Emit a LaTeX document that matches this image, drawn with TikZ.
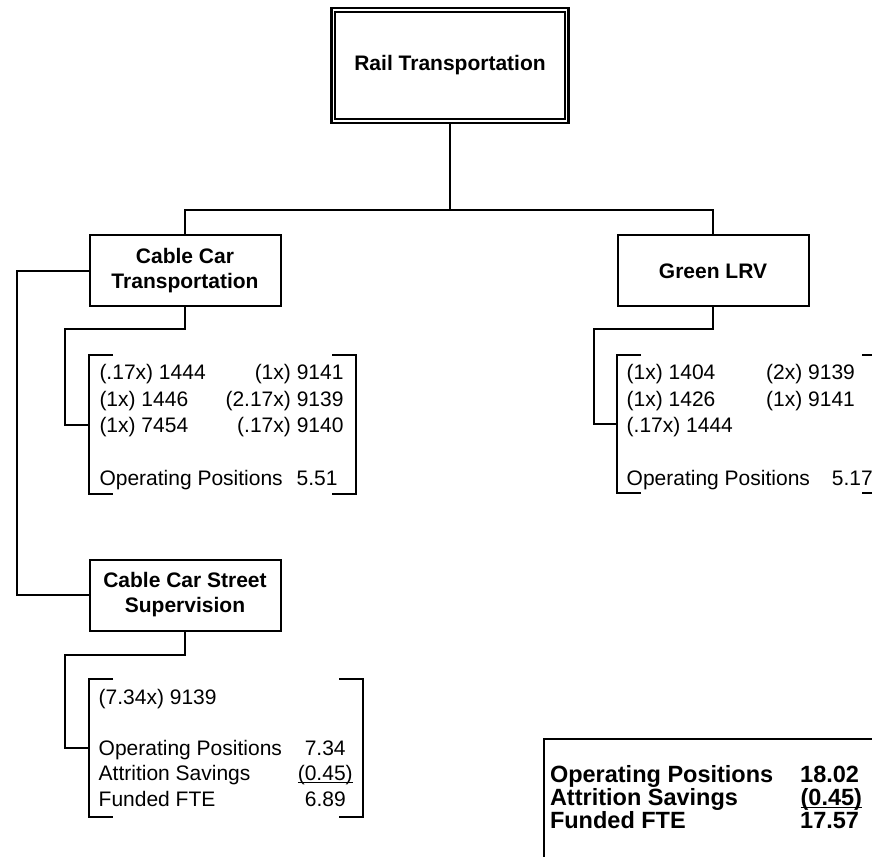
\documentclass[tikz,border=0pt]{standalone}
\usepackage{fontspec}
\setmainfont{Liberation Sans}
\usetikzlibrary{calc}

\tikzset{
  unit/.style={draw, line width=2pt, minimum width=191pt, minimum height=71pt,
    align=center, inner sep=0pt, outer sep=0pt, font=\fontsize{21}{25}\selectfont\bfseries},
  frame/.style={inner sep=0pt, outer sep=0pt},
  wire/.style={line width=2pt},
  brack/.style={line width=2pt},
  listtext/.style={anchor=north west, inner sep=0pt, outer sep=0pt},
}

\begin{document}
\begin{tikzpicture}[x=1pt,y=-1pt]
\useasboundingbox (0,0) rectangle (872,856);
\clip (0,0) rectangle (872,856);

% boxes
\node[unit, line width=2.7pt, minimum width=237.4pt, minimum height=114.9pt] (rail) at (450,65.5) {Rail Transportation};
\draw[line width=1.7pt] ([shift={(3.7,3.8)}]rail.north west) rectangle ([shift={(-3.7,-3.8)}]rail.south east);
\node[unit] (cct) at (185,270.8) {Cable Car\\Transportation};
\node[unit] (lrv) at (713,270.8) {Green LRV};
\node[unit] (ccss) at (185,595) {Cable Car Street\\Supervision};

% position lists
\node[frame, minimum width=267pt, minimum height=139pt] (cclist) at (222.5,424.5) {};
\node[frame, minimum width=269pt, minimum height=138pt] (lrvlist) at (751.5,424) {};
\node[frame, minimum width=274pt, minimum height=138pt] (sslist) at (226,748) {};
\foreach \l in {cclist,lrvlist,sslist} {
  \draw[brack] ([xshift=24pt]\l.north west) -| (\l.south west) -- ++(24,0);
  \draw[brack] ([xshift=-24pt]\l.north east) -| (\l.south east) -- ++(-24,0);
}

\node[listtext, font=\fontsize{21}{26.5}\selectfont] (cctxt) at ([shift={(10.5,6)}]cclist.north west) {%
  \begin{tabular*}{244pt}{@{}l@{\extracolsep{\fill}}r@{}}
  (.17x) 1444 & (1x) 9141\\
  (1x) 1446 & (2.17x) 9139\\
  (1x) 7454 & (.17x) 9140\\
  & \\
  \multicolumn{2}{@{}l@{}}{Operating Positions\hspace{14pt}5.51}
  \end{tabular*}};

\node[listtext, font=\fontsize{21}{26.5}\selectfont] (lrvtxt) at ([shift={(9.7,6)}]lrvlist.north west) {%
  \begin{tabular}{@{}p{139.5pt}@{}l@{}}
  (1x) 1404 & (2x) 9139\\
  (1x) 1426 & (1x) 9141\\
  (.17x) 1444 & \\
  & \\
  \multicolumn{2}{@{}l@{}}{Operating Positions\hspace{22pt}5.17}
  \end{tabular}};

\node[listtext, font=\fontsize{21}{25.5}\selectfont] (sstxt) at ([shift={(9.7,7.6)}]sslist.north west) {%
  \begin{tabular*}{254pt}{@{}l@{\extracolsep{\fill}}r@{}}
  (7.34x) 9139 & \\
  & \\
  Operating Positions & 7.34\phantom{)}\\
  Attrition Savings & \underline{\smash{(0.45)}}\\
  Funded FTE & 6.89\phantom{)}
  \end{tabular*}};

% totals
\node[frame, draw, line width=2pt, anchor=north west, minimum width=400pt, minimum height=200pt] (total) at (544,739) {};
\node[listtext, font=\fontsize{23.5}{26}\selectfont\bfseries] (tottxt) at ([shift={(6,25.2)}]total.north west) {%
  \begin{tabular*}{312pt}{@{}l@{\extracolsep{\fill}}r@{}}
  Operating Positions & 18.02\hspace*{3pt}\\[-3pt]
  Attrition Savings & \underline{\smash{(0.45)}}\\[-3pt]
  Funded FTE & 17.57\hspace*{3pt}
  \end{tabular*}};

% connectors
\draw[wire] (rail.south) -- ++(0,87.1) coordinate (fork) -| (cct.north);
\draw[wire] (fork) -| (lrv.north);
\draw[wire] (cct.south) -- ++(0,23) -| ([xshift=-24pt]cclist.west) -- (cclist.west);
\draw[wire] (lrv.south) -- ++(0,23) -| ([xshift=-23pt]lrvlist.west) -- (lrvlist.west);
\draw[wire] (ccss.south) -- ++(0,24) -| ([xshift=-24pt]sslist.west) -- (sslist.west);
\draw[wire] (cct.west) -- ++(-72.5,0) |- (ccss.west);
\end{tikzpicture}
\end{document}
